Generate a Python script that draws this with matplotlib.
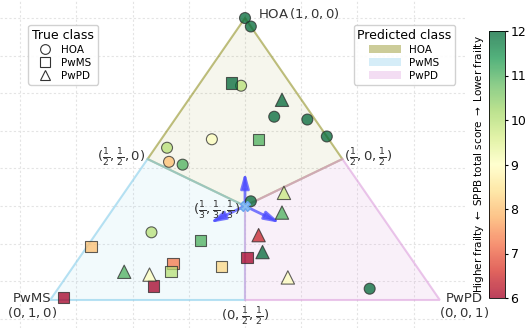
import numpy as np
import matplotlib
matplotlib.use("Agg")
import matplotlib.pyplot as plt
from matplotlib.patches import Polygon, Patch
from matplotlib.lines import Line2D

# Predicted class probabilities (HOA, PwMS, PwPD) and SPPB score per participant
hoa_probs = [
    (1.00, 0.00, 0.00), (0.97, 0.00, 0.03), (0.76, 0.13, 0.11), (0.65, 0.10, 0.25),
    (0.64, 0.02, 0.34), (0.58, 0.00, 0.42), (0.57, 0.30, 0.13), (0.54, 0.43, 0.03),
    (0.49, 0.45, 0.06), (0.48, 0.42, 0.10), (0.35, 0.31, 0.34), (0.24, 0.62, 0.14),
    (0.04, 0.16, 0.80),
]
hoa_sppb = [12, 12, 10, 12, 12, 12, 9, 10, 8, 11, 12, 10, 12]

pwms_probs = [
    (0.77, 0.15, 0.08), (0.57, 0.18, 0.25), (0.19, 0.80, 0.01), (0.21, 0.51, 0.28),
    (0.13, 0.62, 0.25), (0.10, 0.64, 0.26), (0.12, 0.50, 0.38), (0.05, 0.71, 0.24),
    (0.01, 0.96, 0.03), (0.15, 0.42, 0.43),
]
pwms_sppb = [12, 11, 8, 11, 7.3, 10, 8.3, 6, 6, 6]

pwpd_probs = [
    (0.71, 0.05, 0.24), (0.38, 0.21, 0.41), (0.31, 0.25, 0.44), (0.23, 0.35, 0.42),
    (0.17, 0.37, 0.46), (0.08, 0.35, 0.57), (0.10, 0.76, 0.14), (0.09, 0.70, 0.21),
]
pwpd_sppb = [12, 9.8, 11, 6.4, 12, 9, 11, 9]

class_names = ["HOA", "PwMS", "PwPD"]
sppb_min, sppb_max = 6, 12

# Triangle vertices: HOA on top, PwMS bottom-left, PwPD bottom-right
VERTS = np.array([[0.0, 1.0],
                  [-np.sqrt(3) / 2, -0.5],
                  [np.sqrt(3) / 2, -0.5]])


def to_xy(p):
    p = np.atleast_2d(np.asarray(p, dtype=float))
    return p @ VERTS


fig = plt.figure(figsize=(5.27, 3.28), dpi=100)
ax = fig.add_axes([0, 0, 465 / 527, 1])
ax.set_xlim(-1.089, 0.978)
ax.set_ylim(-0.649, 1.096)
ax.set_xticks(np.arange(-1.0, 1.0, 0.25))
ax.set_yticks(np.arange(-0.6, 1.1, 0.2))
ax.tick_params(length=0, labelbottom=False, labelleft=False)
for s in ax.spines.values():
    s.set_visible(False)
ax.grid(True, color="#e4e4e4", linestyle=(0, (2, 2)), linewidth=0.8)
ax.set_axisbelow(True)

# Decision regions in barycentric coordinates
third = (1 / 3, 1 / 3, 1 / 3)
regions = {
    "HOA": [(1, 0, 0), (0.5, 0, 0.5), third, (0.5, 0.5, 0)],
    "PwMS": [(0, 1, 0), (0, 0.5, 0.5), third, (0.5, 0.5, 0)],
    "PwPD": [(0, 0, 1), (0.5, 0, 0.5), third, (0, 0.5, 0.5)],
}
region_style = {
    "HOA": ("olive", 0.07, 0.5, 0.4),
    "PwMS": ("skyblue", 0.10, 0.6, 0.35),
    "PwPD": ("plum", 0.15, 0.6, 0.35),
}
for name, corners in regions.items():
    col, fa, ea, _ = region_style[name]
    xy = to_xy(corners)
    ax.add_patch(Polygon(xy, closed=True, facecolor=col, alpha=fa,
                         edgecolor="none", zorder=1))
    ax.add_patch(Polygon(xy, closed=True, facecolor="none",
                         edgecolor=matplotlib.colors.to_rgba(col, ea),
                         linewidth=1.5, zorder=1.5))

# Arrows from the centroid towards each vertex
arrow_len = 0.18
for v in VERTS:
    tip = v / np.linalg.norm(v) * arrow_len
    ax.annotate("", xy=tip, xytext=(0, 0),
                arrowprops=dict(arrowstyle="-|>,head_width=0.25,head_length=0.9",
                                color=(0.3, 0.3, 1.0, 0.75), lw=2.0,
                                shrinkA=0, shrinkB=0, mutation_scale=10),
                zorder=3)

cmap = plt.get_cmap("RdYlGn")
groups = [(hoa_probs, hoa_sppb, "o", 62),
          (pwms_probs, pwms_sppb, "s", 66),
          (pwpd_probs, pwpd_sppb, "^", 92)]
sc = None
for probs, scores, mk, size in groups:
    xy = to_xy(probs)
    sc = ax.scatter(xy[:, 0], xy[:, 1], c=scores, cmap=cmap, vmin=sppb_min,
                    vmax=sppb_max, marker=mk, s=size, alpha=0.75,
                    edgecolors="#2b2b2b", linewidths=0.8, zorder=4)

cx, cy = to_xy(third)[0]
ax.plot(cx, cy, marker="X", color="#8bbcf0", markersize=7,
        markeredgecolor="#6aa6ee", zorder=5)

# Vertex and midpoint annotations
tc = "#333333"
ax.text(0.058, 1.025, "HOA$\\,(1, 0, 0)$", fontsize=9.5, color=tc,
        ha="left", va="center")
ax.text(-0.947, -0.53, "PwMS\n$(0, 1, 0)$", fontsize=9.5, color=tc,
        ha="center", va="center", multialignment="center", linespacing=1.0)
ax.text(0.973, -0.53, "PwPD\n$(0, 0, 1)$", fontsize=9.5, color=tc,
        ha="center", va="center", multialignment="center", linespacing=1.0)
ax.text(-0.442, 0.258, r"$(\frac{1}{2}, \frac{1}{2}, 0)$", fontsize=9.5,
        color=tc, ha="right", va="center")
ax.text(0.442, 0.258, r"$(\frac{1}{2}, 0, \frac{1}{2})$", fontsize=9.5,
        color=tc, ha="left", va="center")
ax.text(-0.022, -0.025, r"$(\frac{1}{3}, \frac{1}{3}, \frac{1}{3})$",
        fontsize=9.5, color=tc, ha="right", va="center")
ax.text(0.0, -0.53, r"$(0, \frac{1}{2}, \frac{1}{2})$", fontsize=9.5,
        color=tc, ha="center", va="top")

# Legends
true_handles = [Line2D([], [], linestyle="none", marker=m, markersize=ms,
                       markerfacecolor="white", markeredgecolor="#333333",
                       markeredgewidth=0.8, label=n)
                for m, ms, n in zip(["o", "s", "^"], [7, 7, 7.5], class_names)]
leg1 = ax.legend(handles=true_handles, title="True class", loc="upper left",
                 bbox_to_anchor=(0.05, 0.94), fontsize=7.5, title_fontsize=9,
                 handletextpad=0.6, labelspacing=0.3, borderpad=0.35,
                 framealpha=0.9)
ax.add_artist(leg1)

pred_handles = [Patch(facecolor=matplotlib.colors.to_rgba(region_style[n][0],
                                                          region_style[n][3]),
                      edgecolor="none", label=n) for n in class_names]
ax.legend(handles=pred_handles, title="Predicted class", loc="upper right",
          bbox_to_anchor=(0.99, 0.94), fontsize=7.5, title_fontsize=9,
          handlelength=3.0, handleheight=0.8, labelspacing=0.3,
          borderpad=0.35, framealpha=0.9)

# Colour bar
cax = fig.add_axes([489 / 527, 30 / 328, 16 / 527, 267 / 328])
cb = fig.colorbar(sc, cax=cax)
cb.set_ticks(range(6, 13))
cb.ax.tick_params(labelsize=9, length=2.5, width=0.8, pad=1.5)
cb.outline.set_linewidth(0.6)
cb.set_label("Higher frailty $\\leftarrow$ SPPB total score $\\rightarrow$ Lower frailty",
             fontsize=7.5)
cb.ax.yaxis.set_label_position("left")
cb.ax.yaxis.labelpad = 2

fig.savefig("out.png", dpi=100)
